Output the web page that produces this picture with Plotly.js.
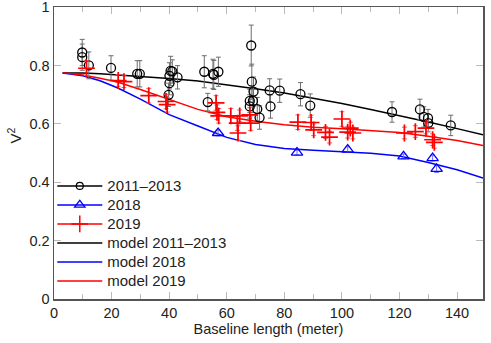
<!DOCTYPE html>
<html>
<head>
<meta charset="utf-8">
<script src="https://cdn.plot.ly/plotly-3.0.1.min.js"></script>
<style>html,body{margin:0;padding:0;background:#fff;}#chart{width:491px;height:343px;}</style>
</head>
<body>
<div id="chart"></div>
<script>
// ---- data: 2011-2013 observations ----
var x2011 = [9.8, 9.8, 12.1, 19.8, 28.9, 29.8, 40.5, 41.1, 40.1, 42.9, 40.1, 39.8,
  52.2, 55.2, 55.5, 57.1, 53.4, 68.5, 68.7, 69.3, 68.0, 69.1, 68.0, 70.6, 71.4,
  74.9, 75.2, 78.4, 85.6, 89.0, 117.4, 127.1, 128.4, 129.9, 130.0, 137.8];
var y2011 = [0.845, 0.829, 0.801, 0.792, 0.772, 0.772, 0.782, 0.780, 0.765, 0.760, 0.740, 0.700,
  0.779, 0.772, 0.768, 0.779, 0.675, 0.869, 0.745, 0.711, 0.679, 0.679, 0.660, 0.651, 0.622,
  0.715, 0.660, 0.714, 0.702, 0.663, 0.641, 0.650, 0.624, 0.620, 0.603, 0.595];
var e2011 = [0.045, 0.045, 0.046, 0.042, 0.045, 0.045, 0.05, 0.04, 0.045, 0.04, 0.04, 0.04,
  0.055, 0.05, 0.05, 0.05, 0.03, 0.07, 0.06, 0.05, 0.04, 0.04, 0.04, 0.04, 0.04,
  0.04, 0.04, 0.04, 0.04, 0.04, 0.035, 0.035, 0.035, 0.03, 0.03, 0.035];

// ---- 2018 observations ----
var x2018 = [57.0, 84.4, 102.0, 121.4, 131.5, 132.9];
var y2018 = [0.569, 0.502, 0.512, 0.489, 0.483, 0.446];
var e2018 = [0.01, 0.008, 0.01, 0.008, 0.01, 0.012];

// ---- 2019 observations ----
var x2019 = [11.3, 22.3, 24.3, 32.9, 38.9, 39.3, 56.3, 56.6, 57.2, 61.4, 64.5, 63.7, 63.9, 68.0, 68.3,
  84.7, 89.3, 90.2, 94.3, 95.7, 100.0, 102.0, 102.9, 103.8, 121.7, 125.5, 129.2, 131.5, 132.1];
var y2019 = [0.791, 0.749, 0.745, 0.697, 0.677, 0.666, 0.672, 0.640, 0.628, 0.628, 0.628, 0.603, 0.569, 0.631, 0.603,
  0.606, 0.605, 0.580, 0.571, 0.555, 0.617, 0.572, 0.586, 0.569, 0.569, 0.574, 0.586, 0.546, 0.537];
var e2019 = [0.025, 0.02, 0.02, 0.025, 0.025, 0.025, 0.025, 0.025, 0.025, 0.025, 0.02, 0.025, 0.025, 0.025, 0.025,
  0.025, 0.025, 0.02, 0.02, 0.02, 0.025, 0.02, 0.02, 0.02, 0.02, 0.02, 0.02, 0.02, 0.02];

// ---- model curves ----
var xModel = [3, 10, 16, 22, 30, 40, 50, 60, 70, 80, 90, 100, 110, 120, 130, 140, 149];
var yModel2011 = [0.775, 0.775, 0.772, 0.768, 0.764, 0.756, 0.747, 0.735, 0.721, 0.706, 0.689, 0.670, 0.650, 0.629, 0.607, 0.584, 0.563];
var yModel2018 = [0.775, 0.765, 0.748, 0.724, 0.685, 0.632, 0.593, 0.554, 0.530, 0.516, 0.510, 0.506, 0.500, 0.490, 0.468, 0.443, 0.415];
var yModel2019 = [0.776, 0.768, 0.757, 0.744, 0.718, 0.683, 0.650, 0.625, 0.609, 0.597, 0.589, 0.584, 0.578, 0.571, 0.558, 0.543, 0.526];

// ---- tick labels ----
var yTickVals = [0, 0.2, 0.4, 0.6, 0.8, 1];
var yTickText = ['0', '0.2', '0.4', '0.6', '0.8', '1'];
var xTickVals = [0, 20, 40, 60, 80, 100, 120, 140];

var names = ['2011\u20132013', '2018', '2019', 'model 2011\u20132013', 'model 2018', 'model 2019'];

var BLACK = '#000000', BLUE = '#0000ff', RED = '#ff0000';
function lg(s){ return '<span style="font-size:15px">' + s + '</span>'; }

var traces = [
  {x: xModel, y: yModel2011, mode: 'lines', line: {color: BLACK, width: 1.5}, name: lg(names[3]), legendrank: 4, hoverinfo: 'skip'},
  {x: xModel, y: yModel2018, mode: 'lines', line: {color: BLUE, width: 1.5}, name: lg(names[4]), legendrank: 5, hoverinfo: 'skip'},
  {x: xModel, y: yModel2019, mode: 'lines', line: {color: RED, width: 1.5}, name: lg(names[5]), legendrank: 6, hoverinfo: 'skip'},
  {x: x2011, y: y2011, mode: 'markers', showlegend: false,
   marker: {symbol: 'circle-open', size: 9, color: BLACK, line: {width: 1.3, color: BLACK}},
   error_y: {type: 'data', array: e2011, visible: true, color: '#6e6e6e', thickness: 1, width: 2.5}},
  {x: x2018, y: y2018, mode: 'markers', showlegend: false,
   marker: {symbol: 'triangle-up-open', size: 10, color: BLUE, line: {width: 1.3, color: BLUE}},
   error_y: {type: 'data', array: e2018, visible: true, color: '#7070ff', thickness: 1, width: 2.5}},
  {x: x2019, y: y2019, mode: 'markers', showlegend: false,
   marker: {symbol: 'cross-thin-open', size: 12, color: RED, line: {width: 1.7, color: RED}},
   error_y: {type: 'data', array: e2019, visible: true, color: '#ff6060', thickness: 1, width: 2.5}},
  // legend entries for observations (line + marker sample)
  {x: [null], y: [null], mode: 'lines+markers', name: lg(names[0]), legendrank: 1,
   line: {color: BLACK, width: 1.5}, marker: {symbol: 'circle-open', size: 7, color: BLACK, line: {width: 1.2, color: BLACK}}},
  {x: [null], y: [null], mode: 'lines+markers', name: lg(names[1]), legendrank: 2,
   line: {color: BLUE, width: 1.5}, marker: {symbol: 'triangle-up-open', size: 9, color: BLUE, line: {width: 1.3, color: BLUE}}},
  {x: [null], y: [null], mode: 'lines+markers', name: lg(names[2]), legendrank: 3,
   line: {color: RED, width: 1.5}, marker: {symbol: 'cross-thin-open', size: 12, color: RED, line: {width: 1.5, color: RED}}}
];

var FONT = 'Liberation Sans, Arial, Helvetica, sans-serif';
var layout = {
  width: 491, height: 343,
  margin: {l: 53.5, r: 8, t: 7, b: 43.5},
  paper_bgcolor: '#ffffff', plot_bgcolor: '#ffffff',
  font: {family: FONT, size: 14.5, color: '#222'},
  showlegend: true,
  legend: {x: -0.004, xanchor: 'left', y: 0.437, yanchor: 'top', bgcolor: 'rgba(0,0,0,0)',
           font: {family: FONT, size: 12, color: '#222'}, itemwidth: 45, traceorder: 'normal'},
  xaxis: {
    range: [0, 149], tickmode: 'array', tickvals: xTickVals, ticks: 'inside', ticklen: 7, tickcolor: '#bbbbbb', tickwidth: 1,
    minor: {dtick: 10, tick0: 0, ticks: 'inside', ticklen: 5, tickcolor: '#bbbbbb'},
    showline: true, linecolor: '#555555', linewidth: 1.5, mirror: 'ticks',
    showgrid: false, zeroline: false,
    tickfont: {family: FONT, size: 14.5, color: '#222'},
    title: {text: 'Baseline length (meter)', font: {family: FONT, size: 14.5, color: '#222'}, standoff: 2}
  },
  yaxis: {
    range: [0, 1.001], tickmode: 'array', tickvals: yTickVals, ticktext: yTickText, ticks: 'inside', ticklen: 7, tickcolor: '#bbbbbb', tickwidth: 1,
    showline: true, linecolor: '#555555', linewidth: 1.5, mirror: 'ticks',
    showgrid: false, zeroline: false, ticklabeloverflow: 'allow',
    tickfont: {family: FONT, size: 14.5, color: '#222'}
  },
  annotations: [{
    text: 'V<sup>2</sup>', textangle: -90, showarrow: false,
    xref: 'paper', yref: 'paper', x: -0.093, y: 0.56, xanchor: 'center', yanchor: 'middle',
    font: {family: FONT, size: 15, color: '#222'}
  }]
};

Plotly.newPlot('chart', traces, layout, {staticPlot: true, displayModeBar: false});
</script>
</body>
</html>
